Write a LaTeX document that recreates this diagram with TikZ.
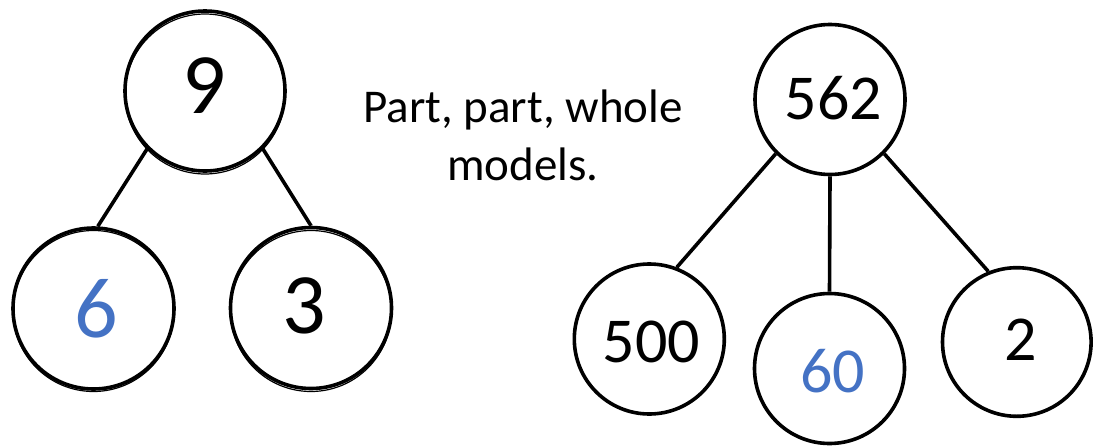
\documentclass[tikz,border=0pt]{standalone}
\usepackage{fontspec}
\setmainfont{Carlito}
\definecolor{numblue}{HTML}{4472C4}
\begin{document}
\begin{tikzpicture}[x=1pt,y=-1pt,
  ring/.style={circle,draw=black,line width=3.6pt,inner sep=0pt,minimum size=#1},
  ghost/.style={circle,draw=black,line width=1.2pt,inner sep=0pt,minimum size=#1},
  link/.style={draw=black,line width=3.6pt},
  bignum/.style={anchor=base,inner sep=0pt,font=\fontsize{86}{100}\selectfont},
  midnum/.style={anchor=base,inner sep=0pt,font=\fontsize{64}{76}\selectfont},
  captext/.style={anchor=base,inner sep=0pt,font=\fontsize{47}{56}\selectfont}]
\useasboundingbox (0,0) rectangle (1094,447);
% left tree
\node[ghost=160pt] (g9) at (205,94) {};
\node[ghost=161pt] (g6) at (93.5,311) {};
\node[ghost=161pt] (g3) at (311,311) {};
\node[ring=160pt] (c9) at (205,91) {};
\node[ring=161pt] (c6) at (93.5,308.5) {};
\node[ring=161pt] (c3) at (311,308) {};
\node[bignum] (t9) at (204,113) {9};
\node[bignum,text=numblue] (t6) at (96,337) {6};
\node[bignum] (t3) at (304.5,333) {3};
\draw[link] (c9.-135.5) -- (c6.87);
\draw[link] (c9.-45.5) -- (c3.90);
% caption
\node[captext] (p1) at (523,122) {Part, part, whole};
\node[captext] (p2) at (523,180) {models.};
% right tree
\node[ring=150pt] (c562) at (830,99.5) {};
\node[ring=150pt] (c500) at (649.3,339) {};
\node[ring=150pt] (c60) at (829.5,368.5) {};
\node[ring=148.6pt] (c2) at (1016.8,342) {};
\node[midnum] (t562) at (833.5,119) {562};
\node[midnum] (t500) at (651.5,362) {500};
\node[midnum,text=numblue] (t60) at (832.5,392) {60};
\node[midnum] (t2) at (1020.5,360) {2};
\draw[link] (c562.-135) -- (c500.69.4);
\draw[link] (c562.south) -- (c60.north);
\draw[link] (c562.-45) -- (c2.112.8);
\end{tikzpicture}
\end{document}
